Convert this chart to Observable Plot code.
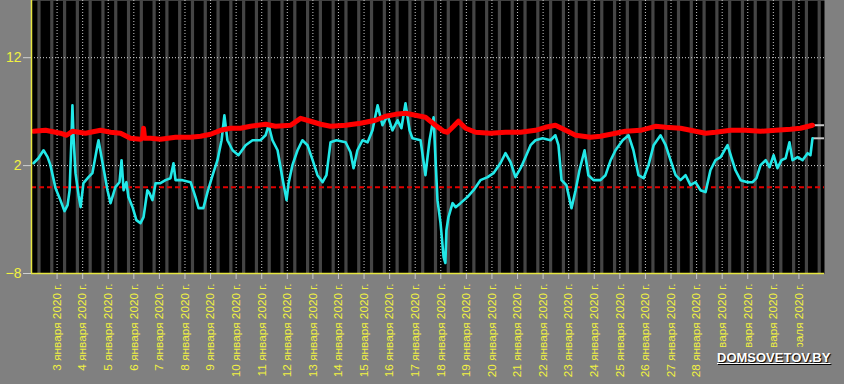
<!DOCTYPE html>
<html>
<head>
<meta charset="utf-8">
<script src="https://cdn.jsdelivr.net/npm/d3@7"></script>
<script src="https://cdn.jsdelivr.net/npm/@observablehq/plot@0.6"></script>
<style>
  html, body { margin: 0; padding: 0; background: #808080; }
  #wrap { position: relative; width: 844px; height: 384px; overflow: hidden; font-family: "Liberation Sans", Arial, sans-serif; }
  #wm { position: absolute; left: 713px; top: 347px; padding: 3px 6px 22px 4px; background: #808080;
        color: #fff; font: bold 13px "Liberation Sans", Arial, sans-serif; text-decoration: underline;
        text-shadow: 1px 1px 1px #000; }
</style>
</head>
<body>
<div id="wrap"><div id="wm">DOMSOVETOV.BY</div></div>
<script>
// [day of January 2020 (fractional; >31 = February), value]
const redSeries = [
  [2.08,5.18],[2.55,5.27],[3.13,5.0],[3.37,4.81],[3.60,5.18],[4.11,5.0],[4.70,5.27],[5.09,5.09],
  [5.48,5.0],[5.87,4.53],[6.26,4.44],[6.34,4.53],[6.38,5.46],[6.42,4.53],[6.65,4.53],[7.04,4.44],
  [7.63,4.63],[8.22,4.63],[8.61,4.72],[9.0,4.9],[9.39,5.27],[9.78,5.46],[10.17,5.46],[10.56,5.64],
  [11.15,5.83],[11.54,5.64],[12.13,5.74],[12.52,6.38],[12.91,6.11],[13.30,5.83],[13.69,5.64],
  [14.28,5.74],[14.86,5.92],[15.45,6.2],[15.84,6.57],[16.23,6.75],[16.62,6.85],[17.01,6.66],
  [17.40,6.48],[17.79,5.74],[18.11,5.18],[18.26,5.09],[18.50,5.64],[18.69,6.11],[18.97,5.46],
  [19.36,5.09],[19.94,5.0],[20.53,5.09],[21.12,5.09],[21.70,5.27],[22.09,5.55],[22.48,5.74],
  [22.88,5.27],[23.27,4.81],[23.85,4.63],[24.24,4.72],[24.64,4.9],[25.22,5.18],[25.81,5.27],
  [26.39,5.64],[26.79,5.55],[27.37,5.46],[27.96,5.18],[28.35,5.0],[28.74,5.09],[29.33,5.27],
  [29.91,5.27],[30.50,5.18],[31.09,5.27],[31.67,5.37],[32.06,5.46],[32.53,5.74]
];
const cyanSeries = [
  [2.08,2.22],[2.27,2.68],[2.47,3.42],[2.63,2.78],[2.74,2.04],[2.94,-0.09],[3.13,-1.2],[3.29,-2.22],
  [3.41,-1.66],[3.49,-0.28],[3.56,4.35],[3.60,7.59],[3.64,4.81],[3.72,1.3],[3.84,-0.74],[3.92,-1.85],
  [4.03,0.37],[4.23,0.93],[4.38,1.3],[4.58,3.89],[4.62,4.35],[4.78,2.22],[4.97,-0.28],[5.09,-1.48],
  [5.28,0.0],[5.44,0.46],[5.52,2.5],[5.60,-0.28],[5.71,0.46],[5.79,-0.92],[5.95,-1.85],[6.10,-3.05],
  [6.26,-3.33],[6.38,-2.77],[6.53,-0.28],[6.61,-0.55],[6.73,-1.2],[6.85,0.37],[7.04,0.37],[7.24,0.65],
  [7.43,0.83],[7.55,2.22],[7.63,0.65],[7.90,0.65],[8.22,0.46],[8.41,-0.92],[8.53,-1.94],[8.72,-1.94],
  [8.88,-0.46],[9.08,1.11],[9.27,2.5],[9.43,4.35],[9.54,6.66],[9.66,4.35],[9.86,3.42],[10.09,2.96],
  [10.37,3.89],[10.64,4.35],[10.95,4.35],[11.15,4.81],[11.27,5.74],[11.42,4.35],[11.62,3.42],
  [11.81,0.83],[11.97,-1.2],[12.05,0.37],[12.20,2.04],[12.40,3.42],[12.59,4.35],[12.79,3.89],
  [12.99,2.5],[13.18,1.11],[13.38,0.46],[13.53,1.11],[13.69,4.16],[13.92,4.35],[14.28,4.16],
  [14.47,3.24],[14.59,1.76],[14.74,3.42],[14.94,4.35],[15.14,4.16],[15.33,5.27],[15.53,7.59],
  [15.72,5.74],[15.92,6.66],[16.11,5.27],[16.31,6.2],[16.46,5.46],[16.62,7.78],[16.78,5.27],
  [16.89,4.53],[17.21,4.35],[17.40,1.11],[17.56,4.35],[17.72,6.48],[17.79,2.78],[17.87,-1.2],
  [17.99,-3.33],[18.11,-6.48],[18.18,-7.03],[18.22,-3.98],[18.30,-2.77],[18.46,-1.48],[18.58,-1.85],
  [18.77,-1.48],[19.04,-0.92],[19.28,-0.28],[19.55,0.65],[19.83,0.93],[20.06,1.3],[20.33,2.22],
  [20.53,3.15],[20.73,2.31],[20.92,0.93],[21.12,1.76],[21.31,2.78],[21.51,3.89],[21.70,4.35],
  [21.98,4.53],[22.29,4.35],[22.48,4.81],[22.60,3.89],[22.72,0.65],[22.91,0.19],[23.11,-1.94],
  [23.27,-0.28],[23.42,1.57],[23.62,3.42],[23.77,1.11],[23.97,0.65],[24.24,0.65],[24.44,1.11],
  [24.64,2.5],[24.83,3.42],[25.11,4.35],[25.34,4.81],[25.53,3.42],[25.73,1.11],[25.93,0.83],
  [26.12,2.04],[26.32,3.89],[26.59,4.81],[26.79,3.89],[26.98,2.5],[27.18,1.11],[27.37,0.65],
  [27.57,1.11],[27.76,0.19],[27.96,0.46],[28.15,-0.28],[28.35,-0.46],[28.54,1.57],[28.74,2.5],
  [28.94,2.78],[29.09,3.42],[29.21,3.89],[29.37,2.68],[29.52,1.57],[29.72,0.65],[29.99,0.46],
  [30.19,0.46],[30.34,0.83],[30.50,2.04],[30.70,2.5],[30.85,1.85],[31.01,2.96],[31.16,1.76],
  [31.32,2.5],[31.48,2.68],[31.63,4.16],[31.75,2.5],[31.95,2.78],[32.14,2.5],[32.34,3.15],
  [32.45,2.96],[32.53,4.53]
];
const yTicks = [12, 2, -8];
const zeroLine = [0];
const gridY = [12, 2];
const tickDays = d3.range(3, 33);          // 3 января … 1 февраля
const monthNames = ["января", "февраля"];
const yearLabel = "2020 г.";
const xDomainDays = [2, 33];
const yDomain = [-8, 17.3];

const toDate = d => new Date(Date.UTC(2020, 0, 1) + (d - 1) * 864e5);
const red = redSeries.map(([d, v]) => ({date: toDate(d), value: v}));
const cyan = cyanSeries.map(([d, v]) => ({date: toDate(d), value: v}));
const tickDates = tickDays.map(toDate);
const [x0, x1] = xDomainDays.map(toDate);
const stripes = d3.utcHour.every(6).range(x0, x1)
  .filter((t, i) => i % 2 === 1)
  .map(t => ({x1: t, x2: new Date(+t + 3 * 3600e3)}));
const lastRed = red[red.length - 1], lastCyan = cyan[cyan.length - 1];
const endMarks = [lastRed, lastCyan].map(p => ({x1: p.date, x2: x1, y: p.value}));

const chart = Plot.plot({
  width: 844, height: 384,
  marginLeft: 31, marginRight: 20, marginTop: 0, marginBottom: 111,
  style: {background: "#808080", fontFamily: "'Liberation Sans', Arial, sans-serif"},
  x: {type: "utc", domain: [x0, x1]},
  y: {domain: yDomain},
  marks: [
    Plot.frame({fill: "#000", stroke: null}),
    Plot.rect(stripes, {x1: "x1", x2: "x2", fill: "#454545"}),
    Plot.ruleX(tickDates, {stroke: "#c8c8c8", strokeDasharray: "1,2", strokeWidth: 1}),
    Plot.ruleY(gridY, {stroke: "#d8d8d8", strokeDasharray: "1,2", strokeWidth: 1}),
    Plot.ruleY(zeroLine, {stroke: "#e00000", strokeDasharray: "5,3", strokeWidth: 2}),
    Plot.ruleY(endMarks, {x1: "x1", x2: "x2", y: "y", stroke: "#c8c8c8", strokeWidth: 2}),
    Plot.line(cyan, {x: "date", y: "value", stroke: "#22e8e8", strokeWidth: 2.6}),
    Plot.line(red, {x: "date", y: "value", stroke: "#ff0000", strokeWidth: 5}),
    Plot.ruleX([x0], {stroke: "#e6e640", strokeWidth: 1.5}),
    Plot.ruleY([yDomain[0]], {stroke: "#e6e640", strokeWidth: 1.5}),
    Plot.axisY(yTicks, {tickSize: 8, tickPadding: 2, stroke: "#d0d0d0", fill: "#f2f240", fontSize: 14}),
    Plot.axisX(tickDates, {
      tickSize: 6, tickPadding: 4, tickRotate: -90, stroke: "#c8c8c8", fill: "#f2f240", fontSize: 11.8,
      tickFormat: d => `${d.getUTCDate()} ${monthNames[d.getUTCMonth()]} ${yearLabel}`
    })
  ]
});
document.getElementById("wrap").prepend(chart);
</script>
</body>
</html>
